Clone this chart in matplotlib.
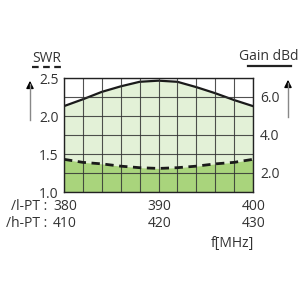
import matplotlib
matplotlib.use("Agg")
import matplotlib.pyplot as plt
from matplotlib.lines import Line2D
import numpy as np

plt.rcParams["font.family"] = ["Open Sans", "DejaVu Sans"]

# frequency for l-PT version (MHz), h-PT is +30
freq = [380, 382, 384, 386, 388, 390, 392, 394, 396, 398, 400]
gain = [5.52, 5.88, 6.27, 6.56, 6.80, 6.86, 6.80, 6.52, 6.20, 5.84, 5.52]
swr = [1.43, 1.39, 1.37, 1.34, 1.32, 1.31, 1.32, 1.34, 1.37, 1.39, 1.43]

lpt_labels = ["380", "390", "400"]
hpt_labels = ["410", "420", "430"]
label_pos = [380, 390, 400]

light = "#e3f1d7"
dark = "#a9d47c"
grid_col = "#333333"
txt = "#333333"
fs = 10

fig = plt.figure(figsize=(3, 3), dpi=100)
ax = fig.add_axes([64 / 300, 1 - 192 / 300, 189 / 300, 114 / 300])
ax2 = ax.twinx()

# gain axis underneath, swr axis on top
ax.set_zorder(2)
ax.patch.set_visible(False)
ax2.set_zorder(1)

ax2.fill_between(freq, 1.0, gain, color=light, lw=0)
ax2.plot(freq, gain, color="#1a1a1a", lw=1.6)
ax2.set_ylim(1, 7)
ax2.set_yticks([2, 4, 6])
ax2.set_yticklabels(["2.0", "4.0", "6.0"], fontsize=fs, color=txt)
ax2.tick_params(axis="y", length=0, pad=5)

ax.fill_between(freq, 1.0, swr, color=dark, lw=0)
for x in np.arange(380, 401, 2):
    ax.axvline(x, color=grid_col, lw=0.8, alpha=0.85)
for y in np.arange(1.0, 2.51, 0.25):
    ax.axhline(y, color=grid_col, lw=0.8, alpha=0.85)
ax.plot(freq, swr, color="#1a1a1a", lw=2, ls=(0, (3, 2)))

ax.set_xlim(380, 400)
ax.set_ylim(1.0, 2.5)
ax.set_xticks([])
ax.set_yticks([1.0, 1.5, 2.0, 2.5])
ax.set_yticklabels(["1.0", "1.5", "2.0", "2.5"], fontsize=fs, color=txt)
ax.tick_params(axis="y", length=0, pad=4)
for s in ax.spines.values():
    s.set_color("#222222")
    s.set_linewidth(1)
for s in ax2.spines.values():
    s.set_visible(False)

# frequency rows
tr = ax.get_xaxis_transform()
for x, a, b in zip(label_pos, lpt_labels, hpt_labels):
    ax.text(x + 0.1, -0.13, a, transform=tr, ha="center", va="center", fontsize=fs, color=txt)
    ax.text(x + 0.1, -0.28, b, transform=tr, ha="center", va="center", fontsize=fs, color=txt)
ax.text(378.2, -0.13, "/l-PT :", transform=tr, ha="right", va="center", fontsize=fs, color=txt)
ax.text(378.2, -0.28, "/h-PT :", transform=tr, ha="right", va="center", fontsize=fs, color=txt)
ax.text(397.8, -0.45, "f[MHz]", transform=tr, ha="center", va="center", fontsize=fs, color=txt)

# axis titles with underline
fig.text(47 / 300, 1 - 58 / 300, "SWR", ha="center", va="center", fontsize=fs, color=txt)
fig.add_artist(Line2D([32 / 300, 63 / 300], [1 - 67 / 300] * 2, color="#222222", lw=1.6,
                      ls=(0, (3, 2))))
fig.text(269 / 300, 1 - 57 / 300, "Gain dBd", ha="center", va="center", fontsize=fs, color=txt)
fig.add_artist(Line2D([248 / 300, 291 / 300], [1 - 66 / 300] * 2, color="#222222", lw=1.6))

# up arrows
for xa, y0, y1 in [(30, 120, 78), (288, 117, 77)]:
    fig.add_artist(Line2D([xa / 300] * 2, [1 - y0 / 300, 1 - (y1 + 6) / 300], color="#888888", lw=1))
    plt.annotate("", xy=(xa / 300, 1 - y1 / 300), xytext=(xa / 300, 1 - (y1 + 10) / 300),
                 xycoords="figure fraction",
                 arrowprops=dict(arrowstyle="-|>", color="black", lw=1, mutation_scale=11))

fig.savefig("out.png", dpi=100)
